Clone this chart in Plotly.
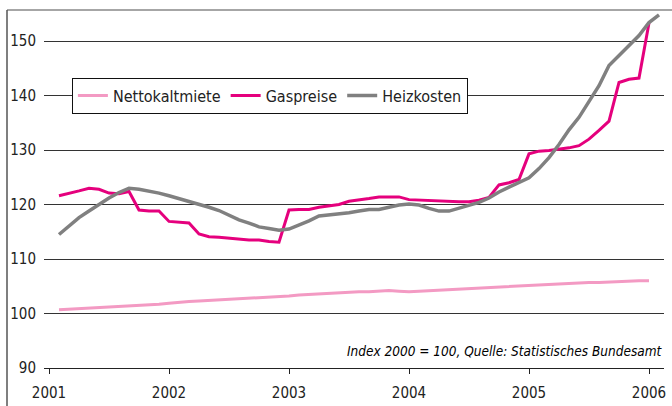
import plotly.graph_objects as go

# ---------------- data (monthly, Jan 2001 ...) ----------------
start_year = 2001
nettokaltmiete = [100.7, 100.8, 100.9, 100.9, 101.0, 101.1, 101.2, 101.3, 101.4, 101.5, 101.7, 101.9,
                  102.1, 102.2, 102.3, 102.4, 102.5, 102.6, 102.6, 102.7, 102.8, 102.9, 103.0, 103.2,
                  103.4, 103.5, 103.6, 103.8, 103.9, 103.9, 104.0, 104.0, 104.1, 104.2, 104.1, 104.0,
                  104.1, 104.2, 104.3, 104.4, 104.5, 104.6, 104.6, 104.7, 104.8, 104.9, 105.0, 105.1,
                  105.3, 105.4, 105.5, 105.5, 105.6, 105.7, 105.7, 105.8, 105.9, 105.9, 106.0, 106.0]
gaspreise = [121.6, 122.0, 122.5, 123.0, 122.8, 122.1, 122.0, 122.4, 119.0, 118.8, 118.8, 116.9,
             116.8, 116.6, 114.6, 114.1, 114.0, 113.8, 113.6, 113.5, 113.5, 113.2, 113.1, 119.0,
             119.1, 119.1, 119.5, 119.7, 120.0, 120.6, 120.8, 121.1, 121.4, 121.4, 121.4, 120.9,
             120.8, 120.8, 120.7, 120.6, 120.5, 120.5, 120.8, 121.3, 123.6, 124.0, 124.6, 129.3,
             129.8, 129.9, 130.1, 130.4, 130.8, 132.0, 133.6, 135.3, 142.4, 143.0, 143.2, 153.3]
heizkosten = [114.5, 116.0, 117.6, 118.8, 120.0, 121.2, 122.2, 123.0, 122.8, 122.5, 122.1, 121.6,
              121.1, 120.6, 120.0, 119.5, 118.9, 118.0, 117.2, 116.6, 115.9, 115.6, 115.3, 115.5,
              116.2, 117.0, 117.9, 118.1, 118.2, 118.5, 118.8, 119.1, 119.1, 119.5, 119.9, 120.1,
              119.9, 119.3, 118.8, 118.8, 119.3, 119.8, 120.4, 121.2, 122.3, 123.2, 124.0, 124.9,
              126.6, 128.6, 131.0, 133.7, 136.0, 139.0, 141.8, 145.5, 147.4, 149.2, 151.0, 153.4,
              154.8]
year_ticks = [2001, 2002, 2003, 2004, 2005, 2006]
year_labels = ["2001", "2002", "2003", "2004", "2005", "2006"]
y_ticks = [90, 100, 110, 120, 130, 140, 150]
note = "Index 2000 = 100, Quelle: Statistisches Bundesamt"


def month_pos(n):
    # each monthly value plotted at the end of its month
    return [start_year + (k + 1) / 12 for k in range(n)]


FONT = "DejaVu Sans Condensed, DejaVu Sans, sans-serif"

fig = go.Figure()
series = [
    ("Nettokaltmiete", nettokaltmiete, "#f39ac3", 3),
    ("Gaspreise", gaspreise, "#e5007d", 3),
    ("Heizkosten", heizkosten, "#808080", 3.5),
]
for name, vals, col, w in series:
    fig.add_trace(go.Scatter(x=month_pos(len(vals)), y=vals, mode="lines", name=name,
                             line=dict(color=col, width=w), cliponaxis=False))

fig.update_layout(
    width=672, height=406,
    margin=dict(l=44, r=8, t=10, b=38, autoexpand=False),
    paper_bgcolor="white", plot_bgcolor="white",
    font=dict(family=FONT, size=15, color="#222"),
    showlegend=True,
    legend=dict(orientation="h", x=0.045, y=(368 - 95.5) / 358, xanchor="left", yanchor="middle",
                bgcolor="white", bordercolor="#111", borderwidth=1,
                font=dict(family=FONT, size=16, color="#222"),
                itemwidth=30, tracegroupgap=0),
)
fig.update_xaxes(range=[2000 + 23 / 24, 2006.125], tickvals=year_ticks, ticktext=year_labels,
                 showgrid=False, showline=True, linecolor="#222", linewidth=1,
                 ticks="outside", ticklen=5, tickcolor="#222", ticklabelstandoff=6,
                 zeroline=False, automargin=False, tickfont=dict(size=15))
fig.update_yaxes(range=[90, 155.7], tickvals=y_ticks, showgrid=True, gridcolor="#333",
                 gridwidth=1, showline=False, ticks="", ticklabelstandoff=7, zeroline=False,
                 automargin=False, tickfont=dict(size=15))

fig.add_annotation(text=note, xref="paper", yref="paper", x=1.0, y=(368 - 351) / 358,
                   xanchor="right", yanchor="middle", showarrow=False,
                   font=dict(family=FONT, size=13.5, color="#000", style="italic"))

# outer frame lines (top and left)
fig.add_shape(type="line", xref="paper", yref="paper", x0=(7 - 44) / 620, x1=(672 - 44) / 620,
              y0=1, y1=1, line=dict(color="#888", width=1.5))
fig.add_shape(type="line", xref="paper", yref="paper", x0=(7 - 44) / 620, x1=(7 - 44) / 620,
              y0=1, y1=(368 - 406) / 358, line=dict(color="#555", width=1.5))

fig.write_html("out.html", config={"displayModeBar": False},
               post_script="document.body.style.margin='0';document.body.style.overflow='hidden';")
